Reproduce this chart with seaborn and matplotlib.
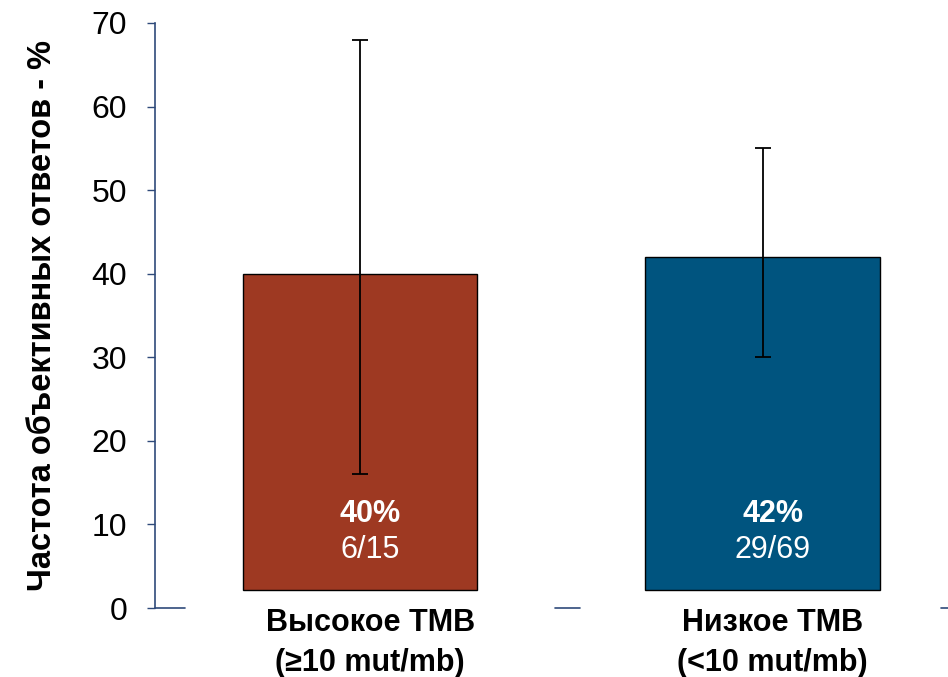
import matplotlib
matplotlib.use("Agg")
import matplotlib.pyplot as plt
import seaborn as sns
import pandas as pd
from matplotlib.transforms import blended_transform_factory

categories = ["Высокое TMB\n(≥10 mut/mb)", "Низкое TMB\n(<10 mut/mb)"]
values = [40, 42]
ci_low = [16, 30]
ci_high = [68, 55]
pct_labels = ["40%", "42%"]
count_labels = ["6/15", "29/69"]
colors = ["#9E3922", "#00547F"]
yticks = [0, 10, 20, 30, 40, 50, 60, 70]

sns.set_theme(style="white")
plt.rcParams["font.family"] = ["Liberation Sans", "DejaVu Sans"]
plt.rcParams["text.color"] = "black"
plt.rcParams["axes.labelcolor"] = "black"
plt.rcParams["ytick.labelcolor"] = "black"

df = pd.DataFrame({"cat": categories, "val": values})

fig = plt.figure(figsize=(9.48, 6.77), dpi=100)
ax = fig.add_axes([155 / 948, 69 / 677, 793 / 948, 585 / 677])

sns.barplot(data=df, x="cat", y="val", hue="cat", palette=colors, saturation=1,
            width=0.582, edgecolor="black", linewidth=1.0, legend=False, ax=ax)

# bars in the reference start slightly above the zero line
base = 2.1
for p in ax.patches:
    h = p.get_height()
    p.set_y(base)
    p.set_height(h - base)

axis_col = "#2F4A7A"
xs = list(range(len(values)))
for x, lo, hi, v in zip(xs, ci_low, ci_high, values):
    ax.errorbar(x, v, yerr=[[v - lo], [hi - v]], fmt="none", ecolor="black",
                elinewidth=1.3, capsize=6, capthick=1.3, zorder=5)

for x, pl, cl in zip(xs, pct_labels, count_labels):
    ax.text(x + 0.025, 11.3, pl, ha="center", va="center", color="white",
            fontsize=22, fontweight="bold")
    ax.text(x + 0.025, 7.0, cl, ha="center", va="center", color="white",
            fontsize=22)

ax.set_xlim(-0.51, 1.461)
ax.set_ylim(0, 70)
ax.set_yticks(yticks)
ax.set_yticklabels([str(t) for t in yticks], fontsize=23)
ax.tick_params(axis="y", length=6, width=1.0, color=axis_col, direction="out",
               pad=14, left=True)
ax.set_xticks([])
ax.set_xlabel("")
ax.set_ylabel("Частота объективных ответов - %", fontsize=23.5, fontweight="bold",
              labelpad=24)

for s in ["top", "right", "bottom"]:
    ax.spines[s].set_visible(False)
ax.spines["left"].set_color(axis_col)
ax.spines["left"].set_linewidth(1.2)

# x axis line, partly hidden behind the category label boxes
for a, b in [(-0.51, -0.436), (0.485, 0.547), (1.443, 1.461)]:
    ax.plot([a, b], [0, 0], color=axis_col, lw=1.2, clip_on=False)

trans = blended_transform_factory(ax.transData, fig.transFigure)
for x, c in zip(xs, categories):
    ax.text(x + 0.025, (677 - 643) / 677, c, transform=trans, ha="center",
            va="center", fontsize=22, fontweight="bold", linespacing=1.45)

fig.savefig("out.png", dpi=100)
